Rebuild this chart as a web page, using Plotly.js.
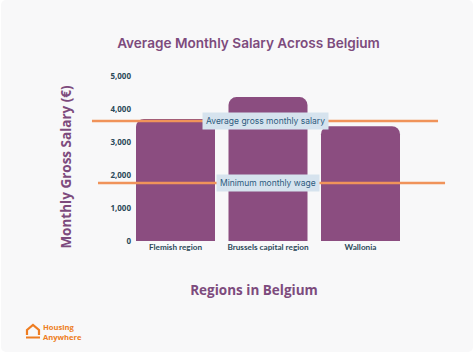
<!DOCTYPE html>
<html><head><meta charset="utf-8">
<script src="https://cdn.plot.ly/plotly-3.0.1.min.js"></script>
<style>html,body{margin:0;padding:0;background:#fff;overflow:hidden}
#card{position:absolute;left:1px;top:0;width:472px;height:352px;background:#f8f8f9;border-radius:5px}
#chart{position:absolute;left:-1px;top:0;width:474px;height:355px}</style>
</head><body><div id="card"><div id="chart"></div></div>
<script>
const regions = ["Flemish region", "Brussels capital region", "Wallonia"];
const regionPositions = [0, 1, 2];
const salaries = [3700, 4360, 3480];
const averageSalary = 3636;
const minimumWage = 1758;
const averageSpan = [-0.903, 2.838];
const minimumSpan = [-0.838, 2.914];
const yTicks = [0, 1000, 2000, 3000, 4000, 5000];
const yTickLabels = ["0", "1,000", "2,000", "3,000", "4,000", "5,000"];

const W = 474, H = 355, L = 58, R = 450, T = 76, B = 258, Y0 = 241;
const pxPerCat = 92.5, firstCat = 175.5;
const xMin = (L - firstCat) / pxPerCat, xMax = (R - firstCat) / pxPerCat;
const yPerPx = 5000 / (Y0 - T), yMin = -(B - Y0) * yPerPx;
const fx = p => (p - L) / (R - L), fy = p => (B - p) / (B - T);
const P = (x, y) => fx(x).toFixed(4) + ' ' + fy(y).toFixed(4);
const lineColor = '#f0935a', purple = '#7d4b7d', ink = '#2c4a5a';

const traces = [
  {type:'bar', x:regionPositions, y:salaries, width:0.854, marker:{color:'#8b4d80'}, hoverinfo:'skip'},
  {type:'scatter', mode:'lines', x:averageSpan, y:[averageSalary, averageSalary], line:{color:lineColor, width:2.5}, hoverinfo:'skip'},
  {type:'scatter', mode:'lines', x:minimumSpan, y:[minimumWage, minimumWage], line:{color:lineColor, width:2.5}, hoverinfo:'skip'}
];
const note = (text, x, y) => ({text, x, y, xref:'x', yref:'y', showarrow:false, bgcolor:'#d6e3ee', borderpad:3,
  font:{family:'Inter, Roboto, sans-serif', size:8.5, color:'#2d5b7e'}});
const layout = {
  width:W, height:H, autosize:false, showlegend:false, barcornerradius:8,
  paper_bgcolor:'rgba(0,0,0,0)', plot_bgcolor:'rgba(0,0,0,0)',
  margin:{l:L, r:W-R, t:T, b:H-B, pad:0},
  title:{text:'Average Monthly Salary Across Belgium', x:248.5/W, xanchor:'center', y:1-43/H, yanchor:'middle',
    font:{family:'Inter, Roboto, sans-serif', size:13.6, weight:600, color:purple}},
  xaxis:{range:[xMin,xMax], anchor:'free', position:fy(Y0), tickmode:'array', tickvals:regionPositions, ticktext:regions, showgrid:false, zeroline:false,
    showline:false, ticks:'', ticklen:0, tickfont:{family:'Lato, sans-serif', size:8.2, weight:700, color:ink},
    title:{text:'Regions in Belgium', standoff:34, font:{family:'Open Sans, sans-serif', size:13.5, weight:700, color:purple}}, automargin:false},
  yaxis:{range:[yMin,5000], anchor:'free', position:fx(131), tickmode:'array', tickvals:yTicks, ticktext:yTickLabels, showgrid:false, zeroline:false,
    showline:false, ticks:'', tickfont:{family:'Open Sans, sans-serif', size:8, weight:700, color:ink},
    title:{text:'Monthly Gross Salary (€)', standoff:34, font:{family:'Open Sans, sans-serif', size:13.5, weight:700, color:purple}}, automargin:false},
  annotations:[
    note('Average gross monthly salary', 0.975, averageSalary - 10),
    note('Minimum monthly wage', 1.0, minimumWage),
    {text:'<b>Housing<br>Anywhere</b>', xref:'paper', yref:'paper', x:fx(41), y:fy(332), xanchor:'left', yanchor:'middle', align:'left', showarrow:false,
     font:{family:'Open Sans, sans-serif', size:7.6, color:'#ee7d22'}}
  ],
  shapes:[{type:'path', xref:'paper', yref:'paper', line:{color:'#ee7d22', width:2.2}, fillcolor:'rgba(0,0,0,0)',
    path:`M${P(27,335)} L${P(27,330)} L${P(33,325)} L${P(39,330)} L${P(39,335)} M${P(26,337.5)} L${P(40,337.5)}`.replace(/([ML])(\S+) (\S+)/g,'$1 $2 $3')}]
};
Plotly.newPlot('chart', traces, layout, {displayModeBar:false, staticPlot:true});
</script></body></html>
